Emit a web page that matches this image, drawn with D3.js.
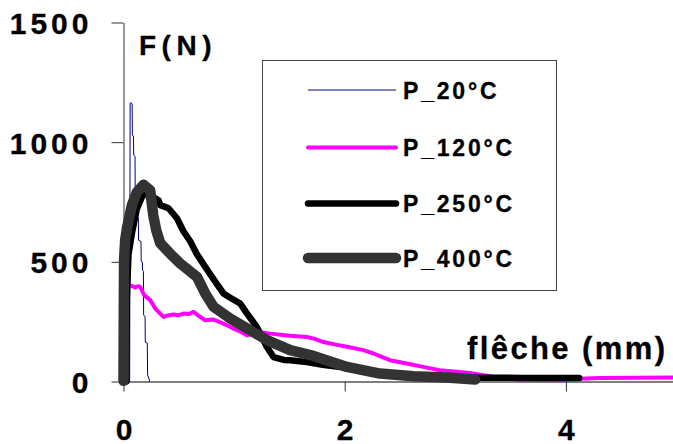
<!DOCTYPE html>
<html>
<head>
<meta charset="utf-8">
<script src="https://cdn.jsdelivr.net/npm/d3@7"></script>
<style>
  html, body { margin: 0; padding: 0; background: #fff; }
  svg { display: block; }
  text { font-family: "Liberation Sans", Arial, sans-serif; font-weight: bold; fill: #000; stroke: #000; stroke-width: 0.3px; }
</style>
</head>
<body>
<svg id="chart" width="673" height="444"></svg>
<script>
// ---------------- data ----------------
const seriesNames = ["P_20°C", "P_120°C", "P_250°C", "P_400°C"];
const xTicks = [0, 2, 4];
const yTicks = [0, 500, 1000, 1500];
const xLabel = "flêche (mm)";
const yLabel = "F(N)";

// [flèche (mm), F (N)]
const p20 = [
  [0.030, 0], [0.056, 0], [0.058, 700], [0.060, 1162], [0.064, 1165], [0.078, 1160],
  [0.080, 1030], [0.090, 1025], [0.092, 946], [0.104, 940], [0.106, 780], [0.118, 775],
  [0.122, 690], [0.134, 685], [0.136, 590], [0.158, 585], [0.160, 503], [0.170, 500],
  [0.172, 465], [0.180, 460], [0.182, 277], [0.195, 272], [0.197, 164], [0.215, 160],
  [0.218, 26], [0.232, 10], [0.236, 0]
];
const p120 = [
  [0.054, 402], [0.08, 398], [0.106, 393], [0.13, 398], [0.151, 395], [0.187, 361],
  [0.241, 340], [0.287, 305], [0.33, 285], [0.362, 270], [0.40, 276], [0.452, 280],
  [0.50, 277], [0.542, 284], [0.59, 282], [0.633, 291], [0.68, 274], [0.739, 256],
  [0.814, 259], [0.86, 250], [0.904, 242], [0.95, 232], [0.995, 221], [1.05, 210],
  [1.116, 193], [1.18, 200], [1.236, 207], [1.326, 200], [1.42, 195], [1.507, 191],
  [1.658, 186], [1.73, 178], [1.808, 165], [1.92, 154], [2.02, 145], [2.17, 131],
  [2.26, 117], [2.33, 104], [2.41, 89], [2.56, 75], [2.71, 61], [2.86, 47],
  [3.04, 40], [3.13, 36], [3.31, 22], [3.45, 12], [3.59, 8], [3.95, 5],
  [4.11, 12], [4.31, 15], [4.6, 16], [5.0, 17]
];
const p250 = [
  [0.025, 0], [0.03, 350], [0.045, 530], [0.076, 619], [0.12, 720], [0.17, 775],
  [0.22, 790], [0.27, 770], [0.317, 757], [0.332, 737], [0.407, 724], [0.483, 682],
  [0.542, 628], [0.603, 586], [0.664, 532], [0.723, 490], [0.784, 448], [0.845, 407],
  [0.904, 368], [0.965, 350], [1.055, 326], [1.116, 285], [1.206, 227], [1.297, 144],
  [1.356, 102], [1.45, 90], [1.507, 89], [1.658, 81], [1.8, 70], [2.0, 58],
  [2.3, 40], [2.6, 27], [2.9, 20], [3.2, 16], [3.6, 15], [4.12, 15]
];
const p400 = [
  [0.0, 3], [0.002, 215], [0.005, 507], [0.015, 590], [0.031, 640], [0.076, 737],
  [0.121, 791], [0.181, 822], [0.241, 799], [0.269, 695], [0.296, 632], [0.332, 578],
  [0.42, 535], [0.513, 493], [0.664, 437], [0.739, 368], [0.814, 312], [0.965, 263],
  [1.146, 214], [1.297, 173], [1.507, 131], [1.718, 107], [2.02, 61], [2.32, 33],
  [2.62, 22], [2.92, 17], [3.18, 8]
];

const seriesData = [p20, p120, p250, p400];
const seriesColors = ["#000080", "#ff00ff", "#000000", "#333333"];
const seriesWidths = [1, 4, 6.5, 10.5];

// ---------------- drawing ----------------
const svg = d3.select("#chart");
const x = d3.scaleLinear().domain([0, 5]).range([123.5, 676.5]);
const y = d3.scaleLinear().domain([0, 1500]).range([381.5, 22.5]);

// y axis
const gy = svg.append("g").attr("transform", "translate(123.5,0)")
  .call(d3.axisLeft(y).tickValues(yTicks).tickSize(12).tickSizeOuter(0).tickPadding(0).tickFormat(d3.format("d")));
gy.select(".domain").attr("stroke", "#333").attr("stroke-width", 1);
gy.selectAll(".tick line").attr("stroke", "#333");
gy.selectAll(".tick text")
  .attr("x", -31).attr("dy", null).attr("y", 11)
  .attr("text-anchor", "end")
  .style("font-size", "30px").style("letter-spacing", "4px")
  .attr("font-family", null).attr("font-size", null);

// x axis
const gx = svg.append("g").attr("transform", "translate(0,381.5)")
  .call(d3.axisBottom(x).tickValues(xTicks).tickSize(10).tickSizeOuter(0).tickFormat(d3.format("d")));
gx.select(".domain").attr("stroke", "#000").attr("stroke-width", 1);
gx.selectAll(".tick line").attr("stroke", "#333");
gx.selectAll(".tick text")
  .attr("dy", null).attr("y", 58)
  .attr("text-anchor", "middle")
  .style("font-size", "30px")
  .attr("font-family", null).attr("font-size", null);

// lines
const line = d3.line().x(d => x(d[0])).y(d => y(d[1]));
const plot = svg.append("g");
seriesData.forEach((data, i) => {
  plot.append("path")
    .datum(data)
    .attr("fill", "none")
    .attr("stroke", seriesColors[i])
    .attr("stroke-width", seriesWidths[i])
    .attr("stroke-linejoin", "round")
    .attr("stroke-linecap", i === 0 ? "butt" : "round")
    .attr("d", line);
});

// axis titles
svg.append("text").attr("x", 139).attr("y", 55)
  .style("font-size", "28px").style("letter-spacing", "5.5px").text(yLabel);
svg.append("text").attr("x", 467).attr("y", 359)
  .style("font-size", "31px").style("letter-spacing", "2.4px").text(xLabel);

// legend
const legend = svg.append("g");
legend.append("rect").attr("x", 262.5).attr("y", 60.5).attr("width", 294).attr("height", 230)
  .attr("fill", "#fff").attr("stroke", "#444").attr("stroke-width", 1);
const legendY = [90, 147.5, 203.5, 258];
seriesNames.forEach((name, i) => {
  legend.append("line")
    .attr("x1", 308).attr("x2", 396)
    .attr("y1", legendY[i]).attr("y2", legendY[i])
    .attr("stroke", seriesColors[i])
    .attr("stroke-width", seriesWidths[i])
    .attr("stroke-linecap", i === 0 ? "butt" : "round");
  legend.append("text")
    .attr("x", 403).attr("y", legendY[i] + 8.5)
    .style("font-size", "23px").style("letter-spacing", "2.8px")
    .text(name);
});
</script>
</body>
</html>
